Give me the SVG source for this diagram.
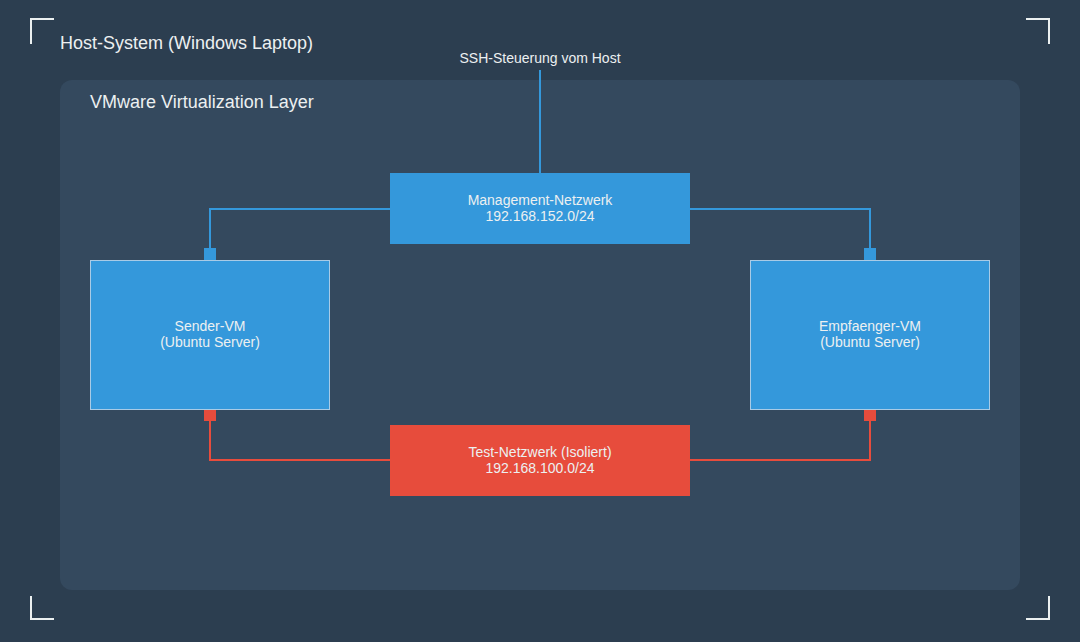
<svg xmlns="http://www.w3.org/2000/svg" width="1080" height="642" viewBox="0 0 1080 642">
<style>
text{font-family:"Liberation Sans",Arial,sans-serif;fill:#ecf0f1}
.lbl{font-size:14px;text-anchor:middle}
.corner{fill:none;stroke:#ecf0f1;stroke-width:2}
.vm{fill:#3498db;stroke:#a9cbe6;stroke-width:1}
.net-b{fill:#3498db}
.net-r{fill:#e74c3c}
.lb{fill:none;stroke:#3498db;stroke-width:2}
.lr{fill:none;stroke:#e74c3c;stroke-width:2}
</style>
<rect width="1080" height="642" fill="#2c3e50"/>
<g id="corners">
<path class="corner" d="M31 44V19H54"/>
<path class="corner" d="M1026 19H1049V44"/>
<path class="corner" d="M31 596V619H54"/>
<path class="corner" d="M1026 619H1049V596"/>
</g>
<g id="host">
<text x="60" y="49" font-size="18">Host-System (Windows Laptop)</text>
</g>
<g id="vmware-layer">
<rect x="60" y="80" width="960" height="510" rx="12" fill="#34495e"/>
<text x="90" y="108" font-size="18">VMware Virtualization Layer</text>
</g>
<g id="connectors">
<path class="lb" d="M540 70V173"/>
<path class="lb" d="M390 209H210V248"/>
<path class="lb" d="M690 209H870V248"/>
<path class="lr" d="M390 460H210V421"/>
<path class="lr" d="M690 460H870V421"/>
<rect class="net-b" x="204" y="248" width="12" height="12"/>
<rect class="net-b" x="864" y="248" width="12" height="12"/>
<rect class="net-r" x="204" y="409" width="12" height="12"/>
<rect class="net-r" x="864" y="409" width="12" height="12"/>
</g>
<g id="ssh-label">
<text class="lbl" x="540" y="63">SSH-Steuerung vom Host</text>
</g>
<g id="mgmt-net">
<rect class="net-b" x="390" y="173" width="300" height="71"/>
<text class="lbl" x="540" y="205">Management-Netzwerk</text>
<text class="lbl" x="540" y="221">192.168.152.0/24</text>
</g>
<g id="test-net">
<rect class="net-r" x="390" y="425" width="300" height="71"/>
<text class="lbl" x="540" y="457">Test-Netzwerk (Isoliert)</text>
<text class="lbl" x="540" y="473">192.168.100.0/24</text>
</g>
<g id="sender-vm">
<rect class="vm" x="90.5" y="260.5" width="239" height="149"/>
<text class="lbl" x="210" y="331">Sender-VM</text>
<text class="lbl" x="210" y="347">(Ubuntu Server)</text>
</g>
<g id="empfaenger-vm">
<rect class="vm" x="750.5" y="260.5" width="239" height="149"/>
<text class="lbl" x="870" y="331">Empfaenger-VM</text>
<text class="lbl" x="870" y="347">(Ubuntu Server)</text>
</g>
</svg>
